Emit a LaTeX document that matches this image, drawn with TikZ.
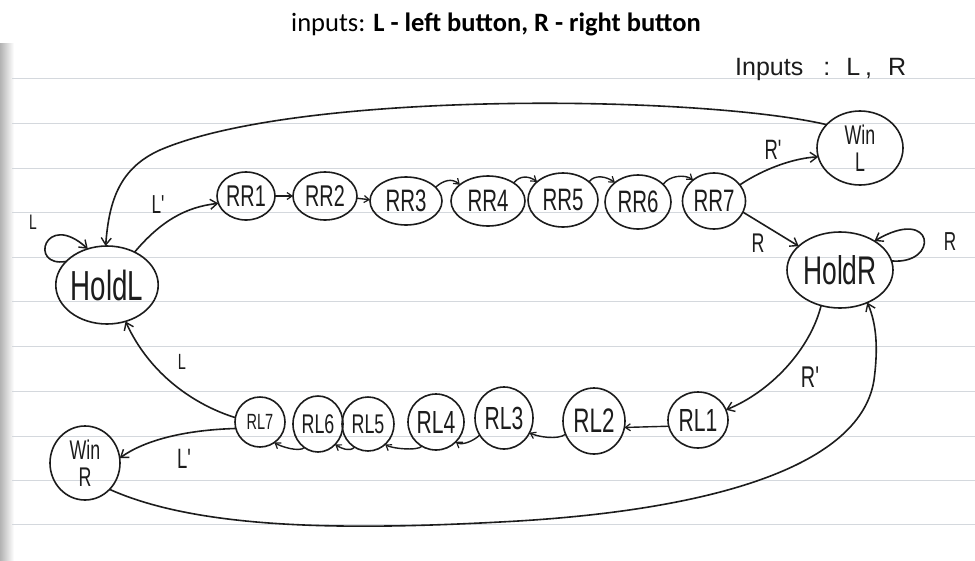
\documentclass[tikz,border=0pt]{standalone}
\usepackage{fontspec}
\newfontfamily\hand[FakeStretch=0.66]{Liberation Sans}
\newfontfamily\handwide{Liberation Sans}
\newfontfamily\titlefont{Carlito}
\usetikzlibrary{shapes.geometric,arrows.meta}
\definecolor{ink}{HTML}{1C1C1C}
\definecolor{rulecol}{HTML}{D4D8DD}
\begin{document}
\begin{tikzpicture}[x=1pt,y=-1pt,
  state/.style={ellipse,draw=ink,line width=1.6pt,inner sep=0pt,outer sep=0pt,text=ink,align=center},
  hw/.style={font=\hand\fontsize{#1}{#1}\selectfont},
  trans/.style={draw=ink,line width=1.6pt,-{Straight Barb[length=7pt,width=10pt,line width=1.4pt]}},
  link/.style={draw=ink,line width=1.4pt,-{Straight Barb[length=5pt,width=7pt,line width=1.2pt]}},
  lbl/.style={text=ink,inner sep=0pt}]
\useasboundingbox (0,0) rectangle (975,560);
% sheet of ruled paper
\fill[white] (0,0) rectangle (975,560);
\shade[left color=black!30,right color=white] (0,43) rectangle (14,560);
\foreach \yy in {78,123,168,212,257,301,346,391,436,480,524}
  \draw[rulecol,line width=0.9pt] (12,\yy) -- (975,\yy);

% heading
\node[font=\titlefont\fontsize{26.5}{26.5}\selectfont,text=black] (title) at (496,24)
  {inputs: \textbf{L - left button, R - right button}};
\node[lbl,font=\handwide\fontsize{25}{25}\selectfont,anchor=base west] (inputs) at (735,75)
  {Inputs\hspace{20pt}:\hspace{16pt}L\hspace{5pt},\hspace{16pt}R};

% states
\node[state,hw=42,minimum width=100pt,minimum height=78pt] (HoldL) at (107,285) {HoldL};
\node[state,hw=30,minimum width=58pt,minimum height=48pt] (RR1) at (246,196) {RR1};
\node[state,hw=30,minimum width=64pt,minimum height=48pt] (RR2) at (325,196) {RR2};
\node[state,hw=31,minimum width=72pt,minimum height=48pt] (RR3) at (406,201) {RR3};
\node[state,hw=31,minimum width=74pt,minimum height=50pt] (RR4) at (488,201) {RR4};
\node[state,hw=31,minimum width=70pt,minimum height=54pt] (RR5) at (563,200) {RR5};
\node[state,hw=31,minimum width=66pt,minimum height=54pt] (RR6) at (638,202) {RR6};
\node[state,hw=31,minimum width=63pt,minimum height=56pt] (RR7) at (714,201) {RR7};
\node[state,font=\hand\fontsize{27}{27}\selectfont,minimum width=86pt,minimum height=74pt] (WinL) at (860,148) {Win\\L};
\node[state,hw=40,minimum width=106pt,minimum height=76pt] (HoldR) at (840,270) {HoldR};
\node[state,hw=32,minimum width=60pt,minimum height=56pt] (RL1) at (698,420) {RL1};
\node[state,hw=34,minimum width=62pt,minimum height=66pt] (RL2) at (594,421) {RL2};
\node[state,hw=32,minimum width=58pt,minimum height=62pt] (RL3) at (504,418) {RL3};
\node[state,hw=32,minimum width=56pt,minimum height=56pt] (RL4) at (436,422) {RL4};
\node[state,hw=27,minimum width=52pt,minimum height=54pt] (RL5) at (368,424) {RL5};
\node[state,hw=27,minimum width=50pt,minimum height=56pt] (RL6) at (318,424) {RL6};
\node[state,hw=22,minimum width=50pt,minimum height=50pt] (RL7) at (260,422) {RL7};
\node[state,font=\hand\fontsize{27}{27}\selectfont,minimum width=70pt,minimum height=74pt] (WinR) at (85,463) {Win\\R};

% transitions around HoldL
\draw[trans] (HoldL.150) .. controls (28,268) and (45,210) .. (HoldL.118);
\node[lbl,hw=21] (lblHL) at (33,222) {L};
\draw[trans] (WinL.145) .. controls (700,95) and (300,90) .. (160,150)
  .. controls (120,168) and (109,200) .. (HoldL.92);
\draw[trans] (HoldL.50) .. controls (160,222) and (185,207) .. (RR1.195);
\node[lbl,hw=26] (lblLp1) at (158,205) {L'};

% upper chain
\draw[link] (RR1.east) -- (RR2.west);
\draw[link] (RR2.-4) -- (RR3.178);
\draw[link] (RR3.25) .. controls +(8,-7) and +(-8,-7) .. (RR4.150);
\draw[link] (RR4.35) .. controls +(6,-8) and +(-8,-6) .. (RR5.145);
\draw[link] (RR5.35) .. controls +(6,-8) and +(-8,-6) .. (RR6.140);
\draw[link] (RR6.35) .. controls +(6,-9) and +(-8,-6) .. (RR7.135);

% leaving RR7
\draw[trans] (RR7.32) .. controls (765,168) and (795,158) .. (WinL.192);
\node[lbl,hw=28] (lblRp1) at (773,150) {R'};
\draw[trans] (RR7.-21) -- (HoldR.150);
\node[lbl,hw=27] (lblR1) at (758,243) {R};

% transitions around HoldR
\draw[trans] (HoldR.10) .. controls (940,265) and (935,205) .. (HoldR.40);
\node[lbl,hw=26] (lblR2) at (950,242) {R};
\draw[trans] (HoldR.242) .. controls (810,350) and (770,392) .. (RL1.20);
\node[lbl,hw=30] (lblRp2) at (810,377) {R'};

% lower chain
\draw[link] (RL1.192) -- (RL2.-12);
\draw[link] (RL2.205) .. controls +(-8,6) and +(8,4) .. (RL3.-30);
\draw[link] (RL3.215) .. controls +(-6,6) and +(6,4) .. (RL4.-45);
\draw[link] (RL4.240) .. controls +(-5,5) and +(6,4) .. (RL5.-50);
\draw[link] (RL5.240) .. controls +(-5,5) and +(6,4) .. (RL6.-50);
\draw[link] (RL6.240) .. controls +(-5,5) and +(6,4) .. (RL7.-55);

% leaving RL7
\draw[trans] (RL7.170) .. controls (195,405) and (150,375) .. (HoldL.-63);
\node[lbl,hw=22] (lblL2) at (182,362) {L};
\draw[trans] (RL7.195) .. controls (185,430) and (145,440) .. (WinR.8);
\node[lbl,hw=28] (lblLp2) at (184,459) {L'};

% WinR back to HoldR
\draw[trans] (WinR.-47) .. controls (200,530) and (350,530) .. (500,522)
  .. controls (700,512) and (860,470) .. (874,380)
  .. controls (878,350) and (877,325) .. (HoldR.-50);
\end{tikzpicture}
\end{document}
